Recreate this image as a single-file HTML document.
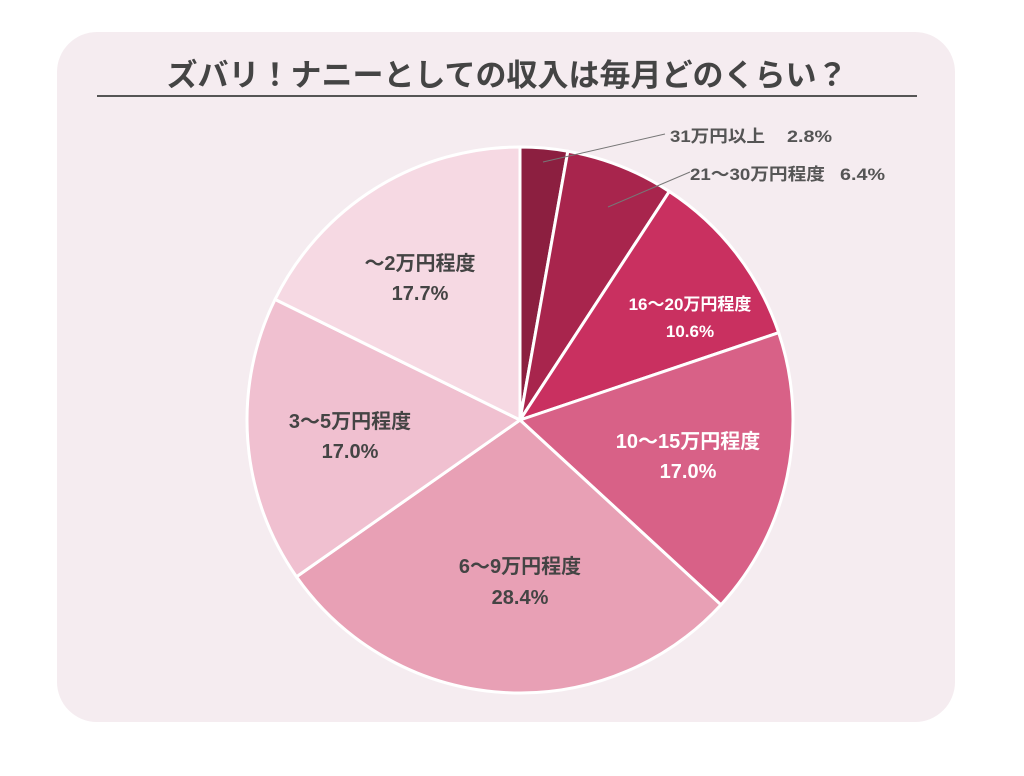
<!DOCTYPE html>
<html><head><meta charset="utf-8"><style>
body{margin:0;width:1024px;height:776px;background:#fff;overflow:hidden}
svg{display:block;font-family:"Liberation Sans","Noto Sans CJK JP",sans-serif;font-weight:bold}
</style></head><body>
<svg id="s" width="1024" height="776" viewBox="0 0 1024 776">
<rect x="57" y="32" width="898" height="690" rx="40" fill="#f5ecf0"/>
<text x="507" y="86" font-size="31" fill="#444" text-anchor="middle">ズバリ！ナニーとしての収入は毎月どのくらい？</text>
<line x1="97" y1="96" x2="917" y2="96" stroke="#555" stroke-width="2"/>
<g id="pie"></g>
<line x1="543" y1="162" x2="665" y2="134" stroke="#777" stroke-width="1"/>
<line x1="608" y1="207" x2="690" y2="172" stroke="#777" stroke-width="1"/>
<g font-size="17" fill="#555">
<text x="670" y="142" textLength="95" lengthAdjust="spacingAndGlyphs">31万円以上</text><text x="787" y="142" textLength="45" lengthAdjust="spacingAndGlyphs">2.8%</text>
<text x="690" y="180" textLength="135" lengthAdjust="spacingAndGlyphs">21〜30万円程度</text><text x="840" y="180" textLength="45" lengthAdjust="spacingAndGlyphs">6.4%</text>
</g>
<g font-size="20" fill="#444" text-anchor="middle">
<text x="420" y="270">〜2万円程度</text><text x="420" y="300">17.7%</text>
<text x="350" y="428">3〜5万円程度</text><text x="350" y="458">17.0%</text>
<text x="520" y="573">6〜9万円程度</text><text x="520" y="604">28.4%</text>
</g>
<g fill="#fff" text-anchor="middle">
<text x="688" y="448" font-size="20">10〜15万円程度</text><text x="688" y="478" font-size="20">17.0%</text>
<text x="690" y="310" font-size="17">16〜20万円程度</text><text x="690" y="337" font-size="17">10.6%</text>
</g>
</svg>
<script>
var v=[2.8,6.4,10.6,17.0,28.4,17.0,17.7],c=["#8c1f40","#a8254d","#c93060","#d86187","#e8a0b5","#f0c0d0","#f6d9e3"];
var t=0,s=0;v.forEach(x=>t+=x);var cx=520,cy=420,r=273,h="";
function p(a){a=a*2*Math.PI;return [cx+r*Math.sin(a),cy-r*Math.cos(a)]}
v.forEach((x,i)=>{var a=p(s/t),e=s+x;var b=p(e/t);h+='<path d="M'+cx+','+cy+'L'+a[0]+','+a[1]+'A'+r+','+r+' 0 '+(x/t>0.5?1:0)+' 1 '+b[0]+','+b[1]+'Z" fill="'+c[i]+'" stroke="#fff" stroke-width="3"/>';s=e});
document.getElementById("pie").innerHTML=h;
</script>
</body></html>
